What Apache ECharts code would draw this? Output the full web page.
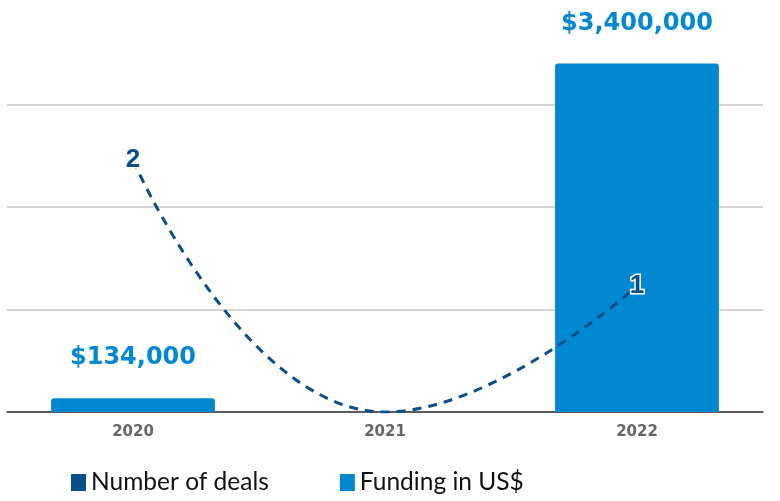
<!DOCTYPE html>
<html>
<head>
<meta charset="utf-8">
<script src="https://cdn.jsdelivr.net/npm/echarts@6/dist/echarts.min.js"></script>
<style>
  html, body { margin: 0; padding: 0; background: #fff; }
  #chart { width: 780px; height: 501px; }
</style>
</head>
<body>
<div id="chart"></div>
<script>
// data
var years = ['2020', '2021', '2022']
var dealCounts = [2, 0, 1]
var funding = [134000, 0, 3400000]

var barColor = '#0288d1'
var lineColor = '#0b4e8c'

var chart = echarts.init(document.getElementById('chart'))

function money(v) {
  return '$' + v.toString().replace(/\B(?=(\d{3})+(?!\d))/g, ',')
}

var option = {
  animation: false,
  grid: {
    left: 7,
    right: 17,
    top: 3,
    bottom: 89
  },
  legend: {
    bottom: 1,
    left: 66,
    itemWidth: 15,
    itemHeight: 17,
    itemGap: 71,
    textStyle: {
      fontFamily: 'Lato, Liberation Sans, sans-serif',
      fontSize: 24.5,
      color: '#111'
    },
    data: [
      { name: 'Number of deals', icon: 'rect', itemStyle: { color: lineColor, opacity: 1 } },
      { name: 'Funding in US$', icon: 'rect' }
    ]
  },
  xAxis: {
    type: 'category',
    data: years,
    axisTick: { show: false },
    axisLine: {
      lineStyle: { color: '#333', width: 1.5 }
    },
    axisLabel: {
      margin: 13,
      fontFamily: 'DejaVu Sans, sans-serif',
      fontWeight: 'bold',
      fontSize: 15,
      color: '#666'
    }
  },
  yAxis: [
    {
      type: 'value',
      min: 0,
      max: 3990000,
      interval: 1000000,
      axisLabel: { show: false },
      axisLine: { show: false },
      axisTick: { show: false },
      splitLine: {
        showMaxLine: false,
        lineStyle: { color: '#d4d4d4', width: 2 }
      }
    },
    {
      type: 'value',
      min: 0,
      max: 3.25,
      axisLabel: { show: false },
      axisLine: { show: false },
      axisTick: { show: false },
      splitLine: { show: false }
    }
  ],
  series: [
    {
      name: 'Funding in US$',
      type: 'bar',
      yAxisIndex: 0,
      barWidth: '65%',
      data: funding,
      itemStyle: {
        color: barColor,
        borderRadius: [3, 3, 0, 0]
      },
      label: {
        show: true,
        position: 'top',
        distance: 28,
        fontFamily: 'DejaVu Sans, sans-serif',
        fontWeight: 'bold',
        fontSize: 24,
        color: barColor,
        formatter: function (p) {
          return p.value > 0 ? money(p.value) : ''
        }
      },
      z: 1
    },
    {
      name: 'Number of deals',
      type: 'line',
      yAxisIndex: 1,
      data: dealCounts,
      smooth: 0.5,
      symbol: 'circle',
      symbolSize: 2,
      showSymbol: true,
      itemStyle: { color: lineColor },
      lineStyle: {
        color: lineColor,
        width: 3,
        type: [9, 7]
      },
      label: {
        show: true,
        position: 'inside',
        fontFamily: 'Liberation Sans, Arial, sans-serif',
        fontWeight: 'bold',
        fontSize: 26,
        color: lineColor,
        textBorderColor: '#fff',
        textBorderWidth: 3,
        formatter: function (p) {
          return p.value > 0 ? String(p.value) : ''
        }
      },
      z: 3
    }
  ]
}

chart.setOption(option)
</script>
</body>
</html>
